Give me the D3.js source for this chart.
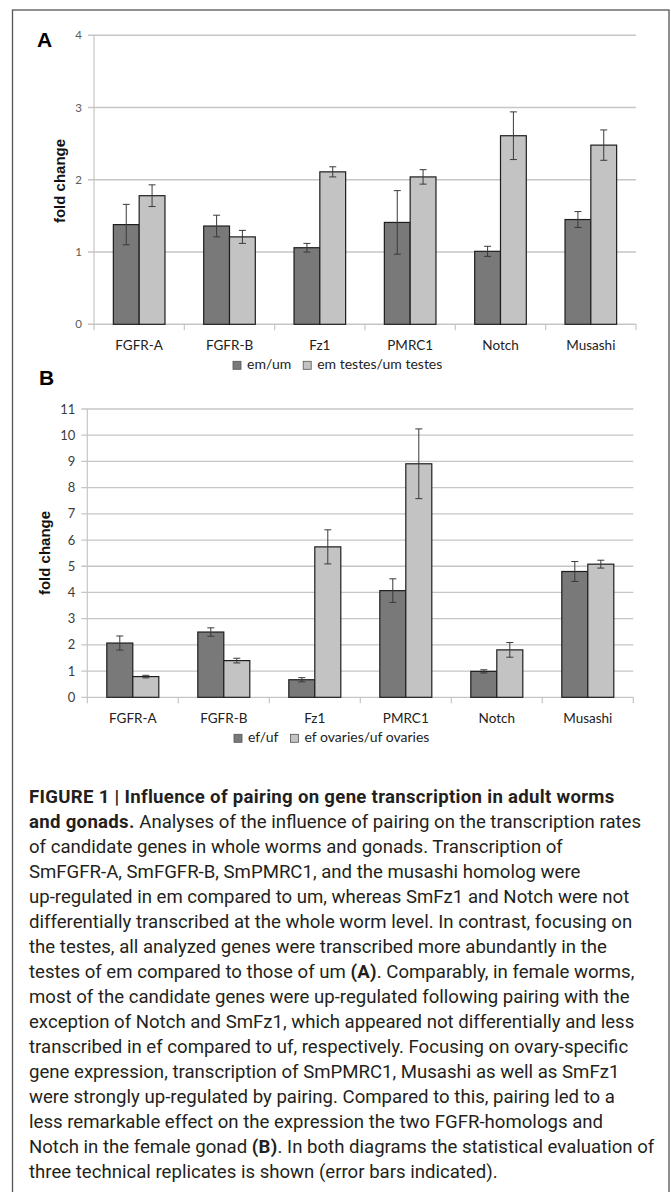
<!doctype html>
<html>
<head>
<meta charset="utf-8">
<script src="https://d3js.org/d3.v7.min.js"></script>
<style>
  body { margin: 0; background: #fff; }
</style>
</head>
<body>
<script>

// ---------- data ----------
var genes = ["FGFR-A", "FGFR-B", "Fz1", "PMRC1", "Notch", "Musashi"];

// panel A (male)
var emUm = [1.38, 1.36, 1.06, 1.41, 1.01, 1.45];
var emUmErr = [0.28, 0.15, 0.06, 0.44, 0.07, 0.11];
var testes = [1.78, 1.21, 2.11, 2.04, 2.61, 2.48];
var testesErr = [0.15, 0.09, 0.07, 0.10, 0.33, 0.21];
var ticksA = [0, 1, 2, 3, 4];

// panel B (female)
var efUf = [2.07, 2.49, 0.67, 4.07, 0.99, 4.80];
var efUfErr = [0.27, 0.16, 0.08, 0.45, 0.06, 0.38];
var ovaries = [0.79, 1.40, 5.74, 8.91, 1.81, 5.08];
var ovariesErr = [0.05, 0.09, 0.65, 1.33, 0.28, 0.15];
var ticksB = [0, 1, 2, 3, 4, 5, 6, 7, 8, 9, 10, 11];

var legendA = ["em/um", "em testes/um testes"];
var legendB = ["ef/uf", "ef ovaries/uf ovaries"];

// caption: each line is a list of [text, bold]
var caption = [
  [["FIGURE 1 | Influence of pairing on gene transcription in adult worms", true]],
  [["and gonads.", true], [" Analyses of the influence of pairing on the transcription rates", false]],
  [["of candidate genes in whole worms and gonads. Transcription of", false]],
  [["SmFGFR-A, SmFGFR-B, SmPMRC1, and the musashi homolog were", false]],
  [["up-regulated in em compared to um, whereas SmFz1 and Notch were not", false]],
  [["differentially transcribed at the whole worm level. In contrast, focusing on", false]],
  [["the testes, all analyzed genes were transcribed more abundantly in the", false]],
  [["testes of em compared to those of um ", false], ["(A)", true], [". Comparably, in female worms,", false]],
  [["most of the candidate genes were up-regulated following pairing with the", false]],
  [["exception of Notch and SmFz1, which appeared not differentially and less", false]],
  [["transcribed in ef compared to uf, respectively. Focusing on ovary-specific", false]],
  [["gene expression, transcription of SmPMRC1, Musashi as well as SmFz1", false]],
  [["were strongly up-regulated by pairing. Compared to this, pairing led to a", false]],
  [["less remarkable effect on the expression the two FGFR-homologs and", false]],
  [["Notch in the female gonad ", false], ["(B)", true], [". In both diagrams the statistical evaluation of", false]],
  [["three technical replicates is shown (error bars indicated).", false]]
];

var darkFill = "#797979", lightFill = "#c3c3c3";

var svg = d3.select("body").append("svg")
    .attr("width", 671).attr("height", 1192);

// outer frame (open at the bottom of the page)
svg.append("rect")
    .attr("x", 12.5).attr("y", 10)
    .attr("width", 656.5).attr("height", 1200)
    .style("fill", "none").style("stroke", "#555").style("stroke-width", 1.3);

function panel(o) {
    var g = svg.append("g");

    var x = d3.scaleBand().domain(genes).range([o.left, o.right]);
    var y = d3.scaleLinear().domain([0, o.max]).range([o.bottom, o.top]);
    var bw = x.bandwidth() / 3.5;   // excel style: 150% gap width
    var inner = d3.scaleBand().domain([0, 1]).range([bw * 0.75, bw * 2.75]);

    // gridlines + little ticks on the left
    g.selectAll(".grid").data(o.ticks).enter().append("line")
        .attr("x1", o.left - 6).attr("x2", o.right)
        .attr("y1", function(d) { return y(d); })
        .attr("y2", function(d) { return y(d); })
        .style("stroke", "#c6c6c6").style("stroke-width", o.gridW);

    // y axis line
    g.append("line")
        .attr("x1", o.left).attr("x2", o.left)
        .attr("y1", y(o.max)).attr("y2", o.bottom)
        .style("stroke", "#c6c6c6").style("stroke-width", 1.2);

    // x ticks between categories
    var edges = genes.map(function(d) { return x(d); }).concat([o.right]);
    g.selectAll(".xt").data(edges).enter().append("line")
        .attr("x1", function(d) { return d; }).attr("x2", function(d) { return d; })
        .attr("y1", o.bottom).attr("y2", o.bottom + 6)
        .style("stroke", "#c6c6c6").style("stroke-width", 1.2);

    g.selectAll(".yl").data(o.ticks).enter().append("text")
        .attr("x", o.left - 12)
        .attr("y", function(d) { return y(d); })
        .attr("dy", "0.35em")
        .attr("text-anchor", "end")
        .style("font-family", "Lato, 'Open Sans', sans-serif")
        .style("font-size", o.tickFont + "px")
        .style("fill", o.tickColor)
        .text(function(d) { return d; });

    var series = [
        {vals: o.s1, err: o.e1, fill: darkFill},
        {vals: o.s2, err: o.e2, fill: lightFill}
    ];

    series.forEach(function(s, si) {
        var bars = g.append("g");
        bars.selectAll("rect").data(genes).enter().append("rect")
            .attr("x", function(d) { return x(d) + inner(si); })
            .attr("width", inner.bandwidth())
            .attr("y", function(d, i) { return y(s.vals[i]); })
            .attr("height", function(d, i) { return o.bottom - y(s.vals[i]); })
            .style("fill", s.fill)
            .style("stroke", "#1e1e1e").style("stroke-width", 1.2);

        var eb = g.append("g").style("stroke", "#3a3a3a").style("stroke-width", 1);
        genes.forEach(function(d, i) {
            var cx = x(d) + inner(si) + inner.bandwidth() / 2;
            var hi = y(s.vals[i] + s.err[i]), lo = y(s.vals[i] - s.err[i]);
            eb.append("line").attr("x1", cx).attr("x2", cx).attr("y1", hi).attr("y2", lo);
            eb.append("line").attr("x1", cx - 3.5).attr("x2", cx + 3.5).attr("y1", hi).attr("y2", hi);
            eb.append("line").attr("x1", cx - 3.5).attr("x2", cx + 3.5).attr("y1", lo).attr("y2", lo);
        });
    });

    // category labels
    g.selectAll(".cat").data(genes).enter().append("text")
        .attr("x", function(d) { return x(d) + x.bandwidth() / 2; })
        .attr("y", o.bottom + 26)
        .attr("text-anchor", "middle")
        .style("font-family", "Lato, 'Open Sans', sans-serif")
        .style("font-size", "13.5px")
        .style("fill", "#222")
        .text(function(d) { return d; });

    // y title
    g.append("text")
        .attr("transform", "translate(" + o.titleX + "," + o.titleY + ") rotate(-90)")
        .attr("text-anchor", "middle")
        .attr("dy", "0.35em")
        .style("font-family", "'Liberation Sans', Arial, sans-serif")
        .style("font-weight", "bold")
        .style("font-size", "15px")
        .style("fill", "#111")
        .text("fold change");

    // legend
    var lg = g.append("g");
    var lx = o.legendX;
    var ly = o.bottom + 45;
    [darkFill, lightFill].forEach(function(c, i) {
        lg.append("rect").attr("x", lx).attr("y", ly - 8)
            .attr("width", 8).attr("height", 8)
            .style("fill", c).style("stroke", "#555").style("stroke-width", 0.8);
        var t = lg.append("text").attr("x", lx + 14).attr("y", ly)
            .style("font-family", "Lato, 'Open Sans', sans-serif")
            .style("font-size", "14px")
            .style("fill", "#222")
            .text(o.legend[i]);
        lx += 14 + t.node().getComputedTextLength() + 12;
    });

    // panel letter
    svg.append("text")
        .attr("x", o.letterX).attr("y", o.letterY)
        .style("font-family", "'Liberation Sans', Arial, sans-serif")
        .style("font-weight", "bold")
        .style("font-size", "21px")
        .style("fill", "#000")
        .text(o.letter);
}

panel({
    left: 94, right: 636, top: 35.3, bottom: 324.3, max: 4, ticks: ticksA,
    s1: emUm, e1: emUmErr, s2: testes, e2: testesErr,
    tickFont: 11.5, tickColor: "#5a5a5a", gridW: 1.6, titleX: 60, titleY: 181,
    legend: legendA, legendX: 233, letter: "A", letterX: 37, letterY: 47
});

panel({
    left: 87.3, right: 633.3, top: 409, bottom: 697.3, max: 11, ticks: ticksB,
    s1: efUf, e1: efUfErr, s2: ovaries, e2: ovariesErr,
    tickFont: 13, tickColor: "#3c3c3c", gridW: 1.3, titleX: 45, titleY: 553,
    legend: legendB, legendX: 234, letter: "B", letterX: 39, letterY: 385
});

// caption
var cap = svg.append("g")
    .style("font-family", "Roboto, 'Noto Sans', sans-serif")
    .style("font-size", "18.6px")
    .style("fill", "#231f20");

caption.forEach(function(line, i) {
    var t = cap.append("text").attr("x", 29).attr("y", 803 + i * 25);
    line.forEach(function(seg) {
        t.append("tspan")
            .style("font-weight", seg[1] ? "bold" : "normal")
            .style("letter-spacing", seg[1] ? "0.3px" : null)
            .text(seg[0]);
    });
});

</script>
</body>
</html>
